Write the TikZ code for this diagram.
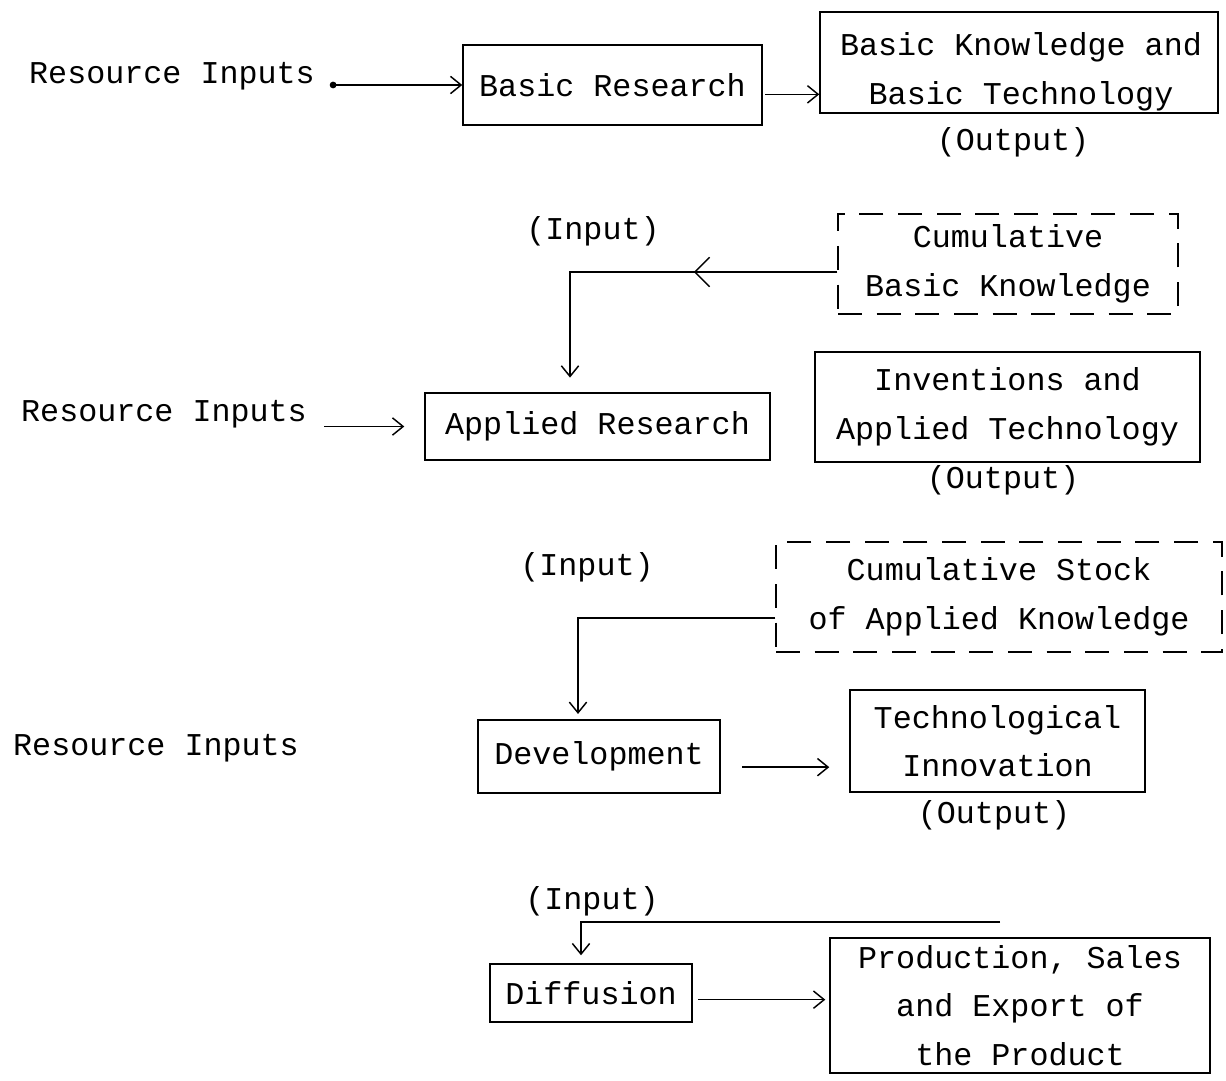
\documentclass[tikz,border=0pt]{standalone}
\usepackage{fontspec}
\setmainfont{Liberation Mono}
\usetikzlibrary{arrows.meta,decorations.markings}
\begin{document}
\begin{tikzpicture}[x=0.75pt,y=-0.75pt,
  font=\fontsize{23.8pt}{36.5pt}\selectfont,
  >={Straight Barb[length=8pt,width=13pt]},
  box/.style 2 args={draw, line width=1.1pt, inner sep=0pt, align=center,
     minimum width=#1, minimum height=#2},
  dbox/.style 2 args={box={#1}{#2}, dash pattern=on 18pt off 11pt},
  lbl/.style={inner sep=1pt},
  ln/.style={line width=1.1pt},
  arr/.style={ln, ->},
  midarrow/.style={postaction={decorate, decoration={markings,
     mark=at position #1 with {\arrow{Straight Barb[length=11pt,width=22pt]}}}}}]
\path[use as bounding box] (0,0) rectangle (1226,1080);

% Row 1
\node[lbl] (ri1) at (172,76) {Resource Inputs};
\node[box={224.25pt}{60pt}] (br) at (612.5,85) {Basic Research};
\node[box={298.5pt}{75.75pt}] (bk) at (1019,62.5) {};
\node[lbl, align=center] (bkt) at (1021,72) {Basic Knowledge and\\Basic Technology};
\node[lbl] (o1) at (1013,142) {(Output)};
\draw[ln, {Circle[length=5pt]}->] ([xshift=10pt]ri1.east |- br.west) -- (br.west);
\draw[arr] ([xshift=2pt,yshift=-7pt]br.east) -- ([yshift=-7pt]br.east -| bk.west);

% Row 2
\node[lbl] (in1) at (593,231) {(Input)};
\node[dbox={255pt}{75pt}] (cbk) at (1008,264) {Cumulative\\Basic Knowledge};
\coordinate (k1) at (570,272);
\node[box={258.75pt}{50.25pt}] (ar) at (597.5,426.5) {Applied Research};
\draw[arr, shorten >=11pt, midarrow=0.37] (cbk.west |- k1) -- (k1) -- (k1 |- ar.north);
\node[lbl] (ri2) at (164,414) {Resource Inputs};
\draw[arr] ([xshift=12pt]ri2.east |- ar.west) -- ([xshift=-15pt]ar.west);
\node[box={288.75pt}{82.5pt}] (iat) at (1007.5,407) {Inventions and\\Applied Technology};
\node[lbl] (o2) at (1003,480) {(Output)};

% Row 3
\node[lbl] (in2) at (587,567) {(Input)};
\node[dbox={334.5pt}{82.5pt}] (cs) at (999,597) {Cumulative Stock\\of Applied Knowledge};
\coordinate (k2) at (578,618);
\node[box={181.5pt}{54.75pt}] (dev) at (599,756.5) {Development};
\draw[arr, shorten >=4pt] (cs.west |- k2) -- (k2) -- (k2 |- dev.north);
\node[lbl] (ri3) at (156,748) {Resource Inputs};
\node[box={221.25pt}{76.5pt}] (ti) at (997.5,741) {Technological\\Innovation};
\node[lbl] (o3) at (994,815) {(Output)};
\draw[arr] ([xshift=16pt,yshift=-8pt]dev.east) -- ([xshift=-15pt,yshift=-8pt]dev.east -| ti.west);

% Row 4
\node[lbl] (in3) at (592,901) {(Input)};
\coordinate (f0) at (1000,922);
\coordinate (k3) at (581,922);
\node[box={151.5pt}{43.5pt}] (dif) at (591,993) {Diffusion};
\draw[arr, shorten >=6pt] (f0) -- (k3) -- (k3 |- dif.north);
\node[box={285pt}{101.25pt}] (pse) at (1020,1005.5) {Production, Sales\\and Export of\\the Product};
\draw[arr, shorten >=3pt] ([xshift=4pt,yshift=-5pt]dif.east) -- ([yshift=-5pt]dif.east -| pse.west);
\end{tikzpicture}
\end{document}
